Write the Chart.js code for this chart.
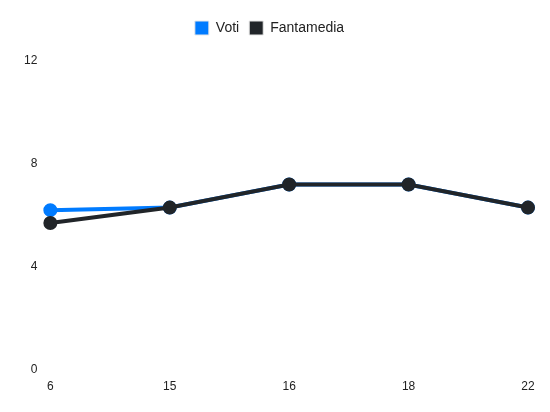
<!DOCTYPE html>
<html>
<head>
<meta charset="utf-8">
<script src="https://cdn.jsdelivr.net/npm/chart.js@4/dist/chart.umd.min.js"></script>
<style>
html,body{margin:0;padding:0;background:#fff;}
#wrap{width:550px;height:412px;}
</style>
</head>
<body>
<div id="wrap"><canvas id="c"></canvas></div>
<script>
const categories = ["6", "15", "16", "18", "22"];
const voti = [6.2, 6.3, 7.2, 7.2, 6.3];
const fantamedia = [5.7, 6.3, 7.2, 7.2, 6.3];
const yTicks = [0, 4, 8, 12];

Chart.defaults.font.family = "'Liberation Sans', Arial, sans-serif";
Chart.defaults.font.size = 12;
Chart.defaults.color = "#222";

const legendGap = {
  id: "legendGap",
  beforeInit(chart) {
    const origFit = chart.legend.fit;
    chart.legend.fit = function () {
      origFit.bind(chart.legend)();
      this.height += 16;
    };
  }
};

new Chart(document.getElementById("c"), {
  type: "line",
  plugins: [legendGap],
  data: {
    labels: categories,
    datasets: [
      {label: "Voti", data: voti, borderColor: "#007bff", backgroundColor: "#007bff",
       borderWidth: 4, pointRadius: 5, pointHoverRadius: 5, tension: 0, order: 1},
      {label: "Fantamedia", data: fantamedia, borderColor: "#212529", backgroundColor: "#212529",
       borderWidth: 4, pointRadius: 5, pointHoverRadius: 5, tension: 0, order: 0}
    ]
  },
  options: {
    responsive: true,
    maintainAspectRatio: false,
    animation: false,
    layout: {padding: {left: 11, right: 22, top: 11, bottom: 8}},
    plugins: {
      legend: {
        position: "top",
        labels: {
          boxWidth: 14, boxHeight: 14, padding: 10, color: "#222",
          font: {size: 14},
          sort: (a, b) => a.datasetIndex - b.datasetIndex,
          generateLabels: (chart) => Chart.defaults.plugins.legend.labels.generateLabels(chart)
            .map(it => Object.assign(it, {lineWidth: 1, strokeStyle: "#e8e8e8"}))
        }
      },
      tooltip: {enabled: false}
    },
    scales: {
      x: {
        grid: {display: false, drawTicks: false},
        border: {display: false},
        ticks: {padding: 10, color: "#222"}
      },
      y: {
        min: yTicks[0],
        max: yTicks[yTicks.length - 1],
        grid: {display: false, drawTicks: false},
        border: {display: false},
        afterBuildTicks: (axis) => { axis.ticks = yTicks.map(v => ({value: v})); },
        ticks: {padding: 13, color: "#222"}
      }
    }
  }
});
</script>
</body>
</html>
